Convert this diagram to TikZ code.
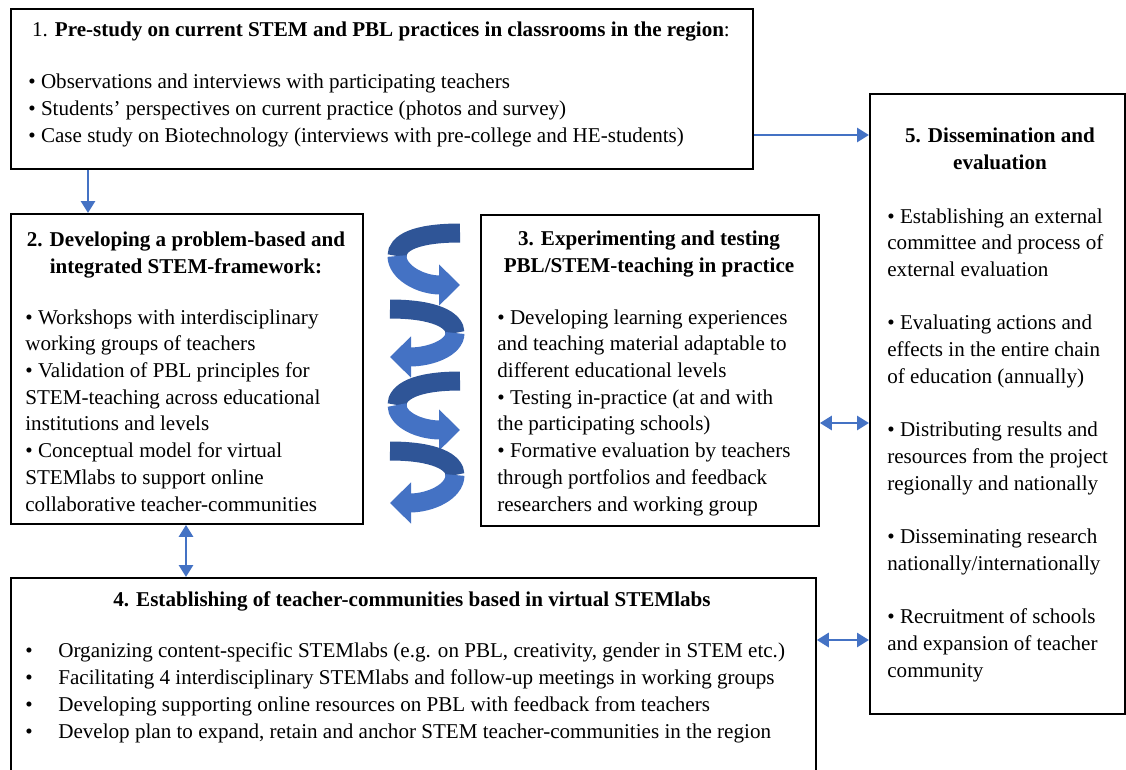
\documentclass[tikz,border=0pt]{standalone}
\usepackage{fontspec}
\setmainfont{Liberation Serif}
\usetikzlibrary{arrows.meta}
\definecolor{linkblue}{HTML}{4472C4}
\definecolor{bandback}{HTML}{2F5597}
\definecolor{bandfront}{HTML}{4472C4}
\tikzset{
	box/.style={draw, line width=1.1pt, anchor=north west, inner sep=0pt},
	body/.style={anchor=base west, align=left, inner sep=0pt, font=\fontsize{12}{15.2}\selectfont},
	head/.style={anchor=base, align=center, inner sep=0pt, font=\fontsize{12}{15.2}\selectfont\bfseries},
	link/.style={linkblue, line width=1.6pt, -{Triangle[length=0.24cm,width=0.28cm]}},
	duo/.style={linkblue, line width=1.6pt, {Triangle[length=0.24cm,width=0.28cm]}-{Triangle[length=0.24cm,width=0.28cm]}},
	back/.style={bandback, line width=0.38cm},
	front/.style={bandfront, line width=0.38cm, -{Triangle[length=0.42cm,width=0.8cm]}}
}
\begin{document}
\begin{tikzpicture}[x=0.02cm, y=-0.02cm]
	\useasboundingbox (0,0) rectangle (1126,769);
	\node [box, minimum width=14.84cm, minimum height=3.2cm] (b1) at (10,8) {};
	\node [box, minimum width=7.04cm, minimum height=6.2cm] (b2) at (10,213) {};
	\node [box, minimum width=6.76cm, minimum height=6.22cm] (b3) at (480,214) {};
	\node [box, minimum width=16.1cm, minimum height=4.0cm] (b4) at (10,577) {};
	\node [box, minimum width=5.1cm, minimum height=12.4cm] (b5) at (869,93) {};
	\node [head, font=\fontsize{12}{15.2}\selectfont] (t1) at (381,36) {1. \textbf{Pre-study on current STEM and PBL practices in classrooms in the region}:};
	\node [body] (l1) at (28,142) {• Observations and interviews with participating teachers\\
		• Students’ perspectives on current practice (photos and survey)\\
		• Case study on Biotechnology (interviews with pre-college and HE-students)};
	\node [head] (t2) at (186,273) {2. Developing a problem-based and\\integrated STEM-framework:};
	\node [body] (l2) at (25,511) {• Workshops with interdisciplinary\\
		working groups of teachers\\
		• Validation of PBL principles for\\
		STEM-teaching across educational\\
		institutions and levels\\
		• Conceptual model for virtual\\
		STEMlabs to support online\\
		collaborative teacher-communities};
	\node [head] (t3) at (649,272) {3. Experimenting and testing\\PBL/STEM-teaching in practice};
	\node [body] (l3) at (497,511) {• Developing learning experiences\\
		and teaching material adaptable to\\
		different educational levels\\
		• Testing in-practice (at and with\\
		the participating schools)\\
		• Formative evaluation by teachers\\
		through portfolios and feedback\\
		researchers and working group};
	\node [head] (t4) at (412,606) {4. Establishing of teacher-communities based in virtual STEMlabs};
	\node [body] (l4) at (25,738) {\makebox[0.66cm][l]{•}Organizing content-specific STEMlabs (e.g. on PBL, creativity, gender in STEM etc.)\\
		\makebox[0.66cm][l]{•}Facilitating 4 interdisciplinary STEMlabs and follow-up meetings in working groups\\
		\makebox[0.66cm][l]{•}Developing supporting online resources on PBL with feedback from teachers\\
		\makebox[0.66cm][l]{•}Develop plan to expand, retain and anchor STEM teacher-communities in the region};
	\node [head] (t5) at (1000,169) {5. Dissemination and\\evaluation};
	\node [body] (l5) at (887,677) {• Establishing an external\\
		committee and process of\\
		external evaluation\\[15.2pt]
		• Evaluating actions and\\
		effects in the entire chain\\
		of education (annually)\\[15.2pt]
		• Distributing results and\\
		resources from the project\\
		regionally and nationally\\[15.2pt]
		• Disseminating research\\
		nationally/internationally\\[15.2pt]
		• Recruitment of schools\\
		and expansion of teacher\\
		community};
	\coordinate (h15) at (0,135);
	\coordinate (h35) at (0,423);
	\coordinate (h45) at (0,640);
	\coordinate (v12) at (88,0);
	\coordinate (v24) at (186,0);
	\draw [link] (b1.south -| v12) -- (b2.north -| v12);
	\draw [link] (b1.east |- h15) -- (b5.west |- h15);
	\draw [duo] (b2.south -| v24) -- (b4.north -| v24);
	\draw [duo] (b3.east |- h35) -- (b5.west |- h35);
	\draw [duo] (b4.east |- h45) -- (b5.west |- h45);
	\draw [back] (460,233) .. controls (415,233) and (397,243) .. (397,256);
	\draw [front] (397,256) .. controls (397,272) and (420,285) .. (460,285);
	\draw [back] (390,309) .. controls (435,309) and (455,320) .. (455,333);
	\draw [front] (455,333) .. controls (455,348) and (430,357) .. (390,357);
	\draw [back] (460,381) .. controls (415,381) and (397,392) .. (397,405);
	\draw [front] (397,405) .. controls (397,420) and (420,430) .. (460,430);
	\draw [back] (390,451) .. controls (435,451) and (455,462) .. (455,475);
	\draw [front] (455,475) .. controls (455,492) and (430,503) .. (390,503);
\end{tikzpicture}
\end{document}
